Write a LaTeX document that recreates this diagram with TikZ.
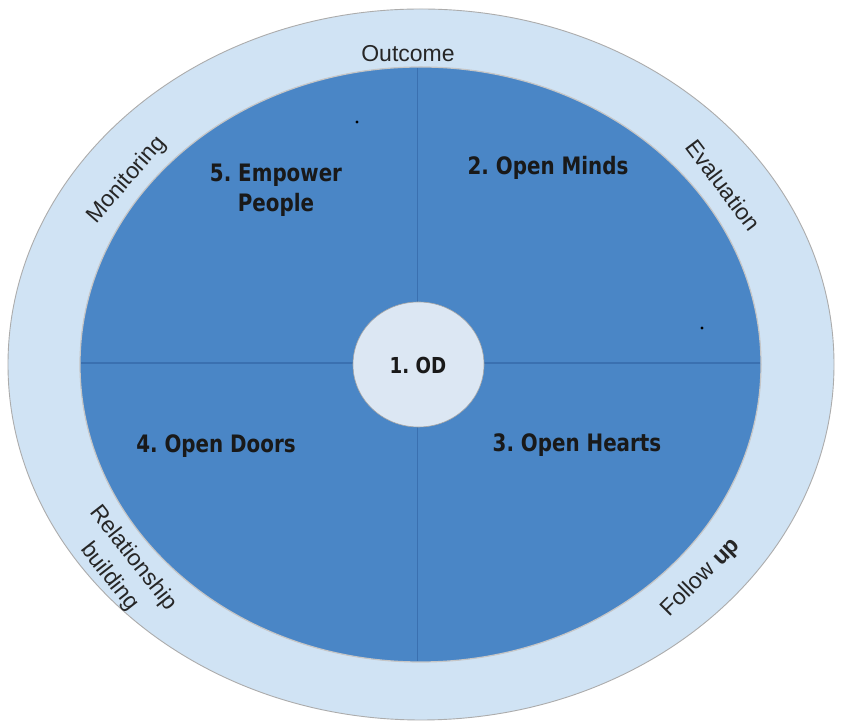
\documentclass[tikz,border=0pt]{standalone}
\usepackage{fontspec}
\setmainfont{Liberation Sans}
\newfontfamily\quadfont[FakeStretch=0.92]{DejaVu Sans Condensed}
\frenchspacing
\begin{document}
\begin{tikzpicture}[x=1pt,y=1pt,
  ringlabel/.style={font=\fontsize{23}{30}\selectfont, text=black!85, align=center, inner sep=0pt},
  quadlabel/.style={font=\quadfont\bfseries\fontsize{24}{30}\selectfont, text=black!90, align=center, inner sep=0pt},
  divider/.style={draw=ringline, line width=1.4pt}]
\definecolor{ringfill}{HTML}{D0E3F4}
\definecolor{quadfill}{HTML}{4A86C6}
\definecolor{ringline}{HTML}{3A70B0}
\definecolor{hubfill}{HTML}{DCE7F3}
\useasboundingbox (0,0) rectangle (844,722);
\fill[white] (0,0) rectangle (844,722);

% outer ring
\fill[ringfill, draw=gray!65, line width=0.9pt] (421,357.5) ellipse [x radius=413, y radius=355.5];

% inner disc split into four quadrants
\fill[quadfill, draw=gray!45, line width=1.2pt] (420.5,357.5) ellipse [x radius=340.5, y radius=297.5];
\begin{scope}
  \clip (420.5,357.5) ellipse [x radius=339.5, y radius=296.5];
  \coordinate (vtop) at (417.5,722);
  \coordinate (vbot) at (417.5,0);
  \coordinate (hleft) at (0,359);
  \coordinate (hright) at (844,359);
  \draw[divider] (vtop) -- (vbot);
  \draw[divider] (hleft) -- (hright);
\end{scope}

% hub
\fill[hubfill, draw=gray!70, line width=0.6pt] (418.5,357.5) ellipse [x radius=65.5, y radius=62.5];
\node[quadlabel, font=\quadfont\bfseries\fontsize{22}{25}\selectfont] (od) at (418,357) {1. OD};

% quadrant labels
\node[quadlabel] (empower) at (276,532) {5. Empower\\People};
\node[quadlabel] (minds) at (548,554) {2. Open Minds};
\node[quadlabel] (doors) at (216,276) {4. Open Doors};
\node[quadlabel] (hearts) at (577,277) {3. Open Hearts};

% stray dots
\fill[black] (357,600) circle (1.6);
\fill[black] (702,394) circle (1.6);

% ring labels
\node[ringlabel] (outcome) at (408,668) {Outcome};
\node[ringlabel, rotate=49] (monitoring) at (127,542) {Monitoring};
\node[ringlabel, rotate=-53] (evaluation) at (723,537) {Evaluation};
\node[ringlabel, rotate=-52] (relation) at (121,154.5) {Relationship\\building};
\node[ringlabel, rotate=45] (follow) at (701,144) {Follow \textbf{up}};
\end{tikzpicture}
\end{document}
